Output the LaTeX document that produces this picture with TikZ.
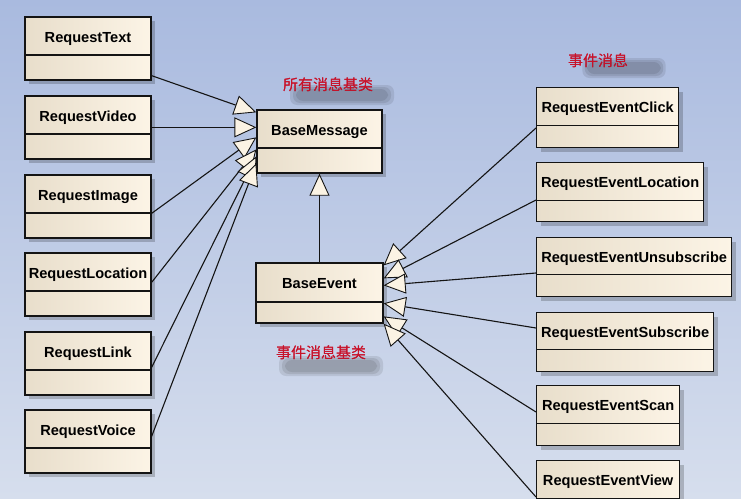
\documentclass[tikz,border=0pt]{standalone}
\usepackage{fontspec}
\setmainfont{Liberation Sans}
\newfontfamily\cjk{Noto Sans CJK SC}
\usetikzlibrary{arrows.meta,shadows}
\definecolor{bgtop}{RGB}{169,186,223}
\definecolor{bgbot}{RGB}{214,222,237}
\definecolor{boxl}{RGB}{232,222,203}
\definecolor{boxr}{RGB}{252,244,230}
\definecolor{linec}{RGB}{20,20,20}
\definecolor{arrowfill}{RGB}{251,243,228}
\definecolor{redtxt}{RGB}{200,18,42}
\tikzset{
  cls/.style={draw=linec, line width=1.3pt, inner xsep=0pt, inner ysep=0pt,
    left color=boxl, right color=boxr,
    font=\bfseries\fontsize{14.6}{16}\selectfont, text height=25pt,
    drop shadow={shadow xshift=4pt, shadow yshift=-4pt, opacity=0.2, fill=black}},
  sz/.style n args={3}{minimum width=#1, text depth=#2,
    path picture={\draw[draw=linec, line width=1.2pt]
      ([yshift=#3]path picture bounding box.south west) --
      ([yshift=#3]path picture bounding box.south east);}},
  gen/.style={draw=linec, line width=1.1pt,
    -{Triangle[length=22pt,width=20pt,fill=arrowfill,line width=0.9pt]}},
  note/.style={text=redtxt, font=\cjk\fontsize{15}{17}\selectfont, inner sep=0pt},
  blob/.style={fill=black, opacity=0.09, rounded corners=7pt}
}
\begin{document}
\begin{tikzpicture}[x=1pt,y=-1pt]
\useasboundingbox (0,0) rectangle (741,498);
\clip (0,0) rectangle (741,498);
\shade[top color=bgtop, bottom color=bgbot] (0,0) rectangle (741,498);

% red labels with soft shadows
\node[note] (lblA) at (328,85) {所有消息基类};
\node[note] (lblB) at (598,61) {事件消息};
\node[note] (lblC) at (321,353) {事件消息基类};
\foreach \w/\h in {104/20,98/16,92/12}{
  \fill[blob] ([xshift=14pt,yshift=-10pt]lblA.center) ++(-\w/2,-\h/2) rectangle ++(\w,\h);
  \fill[blob] ([xshift=26pt,yshift=-7pt]lblB.center) ++(-\w*0.4,-\h/2) rectangle ++(\w*0.8,\h);
  \fill[blob] ([xshift=10pt,yshift=-13pt]lblC.center) ++(-\w/2,-\h/2) rectangle ++(\w,\h);
}
\node[note] at (lblA.center) {所有消息基类};
\node[note] at (lblB.center) {事件消息};
\node[note] at (lblC.center) {事件消息基类};

% left classes
\node[cls, sz={126pt}{38pt}{25pt}] (rt)  at (88,48.5)  {RequestText};
\node[cls, sz={126pt}{38pt}{25pt}] (rv)  at (88,127.5) {RequestVideo};
\node[cls, sz={126pt}{38pt}{25pt}] (ri)  at (88,206.5) {RequestImage};
\node[cls, sz={126pt}{38pt}{25pt}] (rl)  at (88,284.5) {RequestLocation};
\node[cls, sz={126pt}{38pt}{25pt}] (rlk) at (88,363.5) {RequestLink};
\node[cls, sz={126pt}{38pt}{25pt}] (rvo) at (88,441.5) {RequestVoice};

% base classes
\node[cls, sz={125pt}{38pt}{25pt}] (bm) at (319.5,141.5) {BaseMessage};
\node[cls, sz={127pt}{35pt}{21pt}] (be) at (319.5,293) {BaseEvent};

% right classes
\node[cls, sz={142pt}{35pt}{22pt}, anchor=north west] (ec)  at (536,87)  {RequestEventClick};
\node[cls, sz={167pt}{34pt}{21pt}, anchor=north west] (el)  at (536,162) {RequestEventLocation};
\node[cls, sz={195pt}{34pt}{22pt}, anchor=north west] (eu)  at (536,237) {RequestEventUnsubscribe};
\node[cls, sz={177pt}{34pt}{22pt}, anchor=north west] (es)  at (536,312) {RequestEventSubscribe};
\node[cls, sz={143pt}{35pt}{22pt}, anchor=north west] (esc) at (536,385) {RequestEventScan};
\node[cls, sz={143pt}{35pt}{22pt}, anchor=north west] (evw) at (536,460) {RequestEventView};

% generalizations to BaseMessage
\draw[gen] ([yshift=5pt]rt.south east)    -- ([yshift=-3pt]bm.north west);
\draw[gen] ([yshift=-32pt]rv.north east)  -- ([yshift=-18pt]bm.north west);
\draw[gen] ([yshift=-39pt]ri.north east)  -- ([yshift=-28pt]bm.north west);
\draw[gen] ([yshift=-30pt]rl.north east)  -- ([yshift=-40pt]bm.north west);
\draw[gen] ([yshift=-36pt]rlk.north east) -- ([yshift=-47pt]bm.north west);
\draw[gen] ([yshift=-27pt]rvo.north east) -- ([yshift=-54pt]bm.north west);

% BaseEvent to BaseMessage
\draw[gen] (be.north) -- (bm.south);

% generalizations to BaseEvent
\draw[gen] ([yshift=-41pt]ec.north west)  -- ([yshift=-3pt]be.north east);
\draw[gen] ([yshift=-38pt]el.north west)  -- ([yshift=-16pt]be.north east);
\draw[gen] ([yshift=-36pt]eu.north west)  -- ([yshift=-23pt]be.north east);
\draw[gen] ([yshift=-16pt]es.north west)  -- ([yshift=-41pt]be.north east);
\draw[gen] ([yshift=-27pt]esc.north west) -- ([yshift=-54pt]be.north east);
\draw[gen] ([yshift=-37pt]evw.north west) -- (be.south east);
\end{tikzpicture}
\end{document}
